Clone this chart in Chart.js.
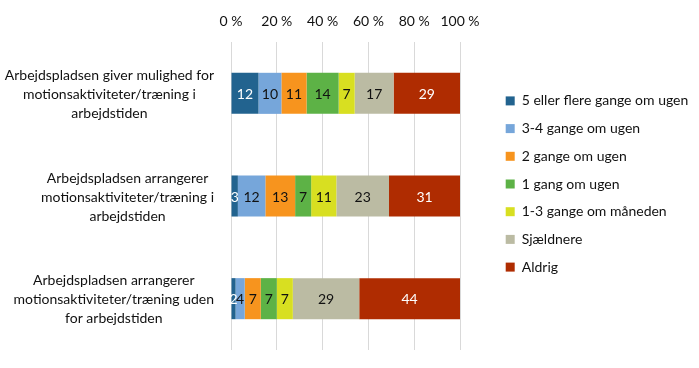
<!DOCTYPE html>
<html>
<head>
<meta charset="UTF-8">
<title>Motion på arbejdspladsen</title>
<script src="https://cdn.jsdelivr.net/npm/chart.js@4.4.0/dist/chart.umd.min.js"></script>
<style>
  html, body { margin: 0; padding: 0; background: #fff; }
  #wrap { width: 699px; height: 368px; position: relative; }
</style>
</head>
<body>
<div id="wrap"><canvas id="myChart"></canvas></div>
<script>
// categories (each one split in lines like in the original)
const categories = [
  ['Arbejdspladsen giver mulighed for', 'motionsaktiviteter/træning i', 'arbejdstiden'],
  ['Arbejdspladsen arrangerer', 'motionsaktiviteter/træning i', 'arbejdstiden'],
  ['Arbejdspladsen arrangerer', 'motionsaktiviteter/træning uden', 'for arbejdstiden']
];
const seriesNames = ['5 eller flere gange om ugen', '3-4 gange om ugen', '2 gange om ugen',
  '1 gang om ugen', '1-3 gange om måneden', 'Sjældnere', 'Aldrig'];

// values in percent
const fivePlus = [12, 3, 2];
const threeFour = [10, 12, 4];
const twice = [11, 13, 7];
const once = [14, 7, 7];
const monthly = [7, 11, 7];
const rarely = [17, 23, 29];
const never = [29, 31, 44];

const xTicks = [0, 20, 40, 60, 80, 100];

const colors = ['#22638F', '#76A6DA', '#F7941E', '#5DB246', '#D8DF21', '#BBBBA3', '#AF2C01'];
const textColors = ['#fff', '#111', '#111', '#111', '#111', '#111', '#fff'];
const FONT = 'Lato';

const allSeries = [fivePlus, threeFour, twice, once, monthly, rarely, never];

// numbers inside the bar segments
const barText = {
  id: 'barText',
  afterDatasetsDraw(chart) {
    const ctx = chart.ctx;
    ctx.save();
    ctx.font = '14px ' + FONT;
    ctx.textAlign = 'center';
    ctx.textBaseline = 'middle';
    chart.data.datasets.forEach((ds, i) => {
      chart.getDatasetMeta(i).data.forEach((bar, j) => {
        ctx.fillStyle = textColors[i];
        ctx.fillText(ds.data[j], (bar.x + bar.base) / 2, bar.y + 1);
      });
    });
    ctx.restore();
  }
};

// category labels: block right aligned, lines centred inside the block
const catText = {
  id: 'catText',
  afterDraw(chart) {
    const ctx = chart.ctx;
    const ys = chart.scales.y;
    ctx.save();
    ctx.font = '14px ' + FONT;
    ctx.fillStyle = '#111';
    ctx.textAlign = 'center';
    ctx.textBaseline = 'middle';
    categories.forEach((lines, i) => {
      const cy = ys.getPixelForValue(i);
      const w = Math.max(...lines.map(l => ctx.measureText(l).width));
      const cx = 214 - w / 2;
      lines.forEach((l, k) => {
        ctx.fillText(l, cx, cy + (k - (lines.length - 1) / 2) * 19 + 1);
      });
    });
    ctx.restore();
  }
};

// make the legend take the space right of the plot
const legendBox = {
  id: 'legendBox',
  beforeLayout(chart) {
    const lg = chart.legend;
    if (lg && !lg._patched) {
      const fit = lg.fit;
      lg.fit = function () { fit.call(this); this.width = 699 - 460; };
      lg._patched = true;
    }
  },
  afterLayout(chart) {
    chart.legend.left += 32;
    chart.legend.right += 32;
    chart.legend.top += 9;
    chart.legend.bottom += 9;
  }
};

const data = {
  labels: categories,
  datasets: seriesNames.map((name, i) => ({
    label: name,
    data: allSeries[i],
    backgroundColor: colors[i],
    borderWidth: 0,
    barPercentage: 0.4,
    categoryPercentage: 1
  }))
};

const config = {
  type: 'bar',
  data: data,
  options: {
    indexAxis: 'y',
    responsive: true,
    maintainAspectRatio: false,
    animation: false,
    layout: { padding: { top: 0, bottom: 18, left: 0, right: 0 } },
    scales: {
      x: {
        position: 'top',
        stacked: true,
        min: 0,
        max: 100,
        afterBuildTicks: s => { s.ticks = xTicks.map(v => ({ value: v })); },
        afterFit: s => { s.height = 42; },
        grid: { color: '#D9D9D9', drawTicks: false },
        border: { display: false },
        ticks: {
          padding: 12,
          color: '#111',
          font: { family: FONT, size: 14 },
          callback: v => v + ' %'
        }
      },
      y: {
        stacked: true,
        afterFit: s => { s.width = 231; },
        grid: { display: false },
        border: { display: false },
        ticks: { display: false }
      }
    },
    plugins: {
      tooltip: { enabled: true },
      legend: {
        position: 'right',
        align: 'center',
        labels: {
          boxWidth: 9,
          boxHeight: 9,
          padding: 13.7,
          color: '#111',
          font: { family: FONT, size: 14 }
        }
      }
    }
  },
  plugins: [barText, catText, legendBox]
};

let ctx = document.getElementById('myChart').getContext('2d');
const myChart = new Chart(ctx, config);
</script>
</body>
</html>
